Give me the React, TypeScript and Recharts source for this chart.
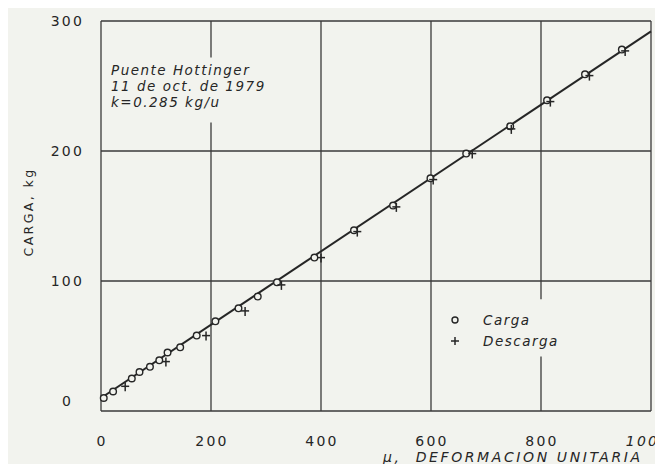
import React from 'react';
import {
  ComposedChart,
  Scatter,
  Line,
  XAxis,
  YAxis,
  CartesianGrid,
  ReferenceArea,
} from 'recharts';

// deformacion unitaria (x) vs carga kg (y)
const cargaX = [5, 22, 56, 70, 89, 106, 121, 144, 174, 208, 250, 285, 320, 388, 460, 531, 599, 664, 744, 811, 880, 947];
const cargaY = [10, 15, 25, 30, 34, 39, 45, 49, 58, 69, 79, 88, 99, 118, 139, 158, 179, 198, 219, 239, 259, 278];

const descargaX = [44, 118, 191, 262, 328, 400, 466, 537, 604, 675, 746, 817, 888, 953];
const descargaY = [19, 38, 58, 77, 97, 118, 138, 157, 178, 198, 217, 238, 258, 277];

// fitted line end points
const fitX = [0, 1000];
const fitY = [10, 292];

const xTicks = [0, 200, 400, 600, 800, 1000];
const yTicks = [0, 100, 200, 300];

const INK = '#262626';
const PAPER = '#f2f3ee';
const FONT = '"DejaVu Sans", sans-serif';

const toPoints = (xs: number[], ys: number[]) => xs.map((x, i) => ({ x, y: ys[i] }));

const cargaData = toPoints(cargaX, cargaY);
const descargaData = toPoints(descargaX, descargaY);
const fitData = toPoints(fitX, fitY);

const CircleDot = (props: any) => {
  const { cx, cy } = props;
  return <circle cx={cx} cy={cy} r={3.3} fill={PAPER} stroke={INK} strokeWidth={1.4} />;
};

const PlusDot = (props: any) => {
  const { cx, cy } = props;
  return (
    <g stroke={INK} strokeWidth={1.5}>
      <line x1={cx - 4} y1={cy} x2={cx + 4} y2={cy} />
      <line x1={cx} y1={cy - 4} x2={cx} y2={cy + 5} />
    </g>
  );
};

const XTick = (props: any) => {
  const { x, y, payload } = props;
  return (
    <text x={x + 1} y={y + 22} textAnchor="middle" dominantBaseline="central" fill={INK}
      fontSize={14} letterSpacing={2.2} fontFamily={FONT}
      fontStyle={payload.value === 1000 ? 'italic' : 'normal'}>
      {payload.value}
    </text>
  );
};

const YTick = (props: any) => {
  const { x, y, payload } = props;
  return (
    <text x={x - (payload.value === 0 ? 20 : 9)} y={payload.value === 0 ? y - 10 : y}
      textAnchor="end" dominantBaseline="central"
      fill={INK} fontSize={14} letterSpacing={2.2} fontFamily={FONT}>
      {payload.value}
    </text>
  );
};

const legendItems = [
  { name: 'Carga', icon: <circle cx={7} cy={7} r={3} fill={PAPER} stroke={INK} strokeWidth={1.4} /> },
  {
    name: 'Descarga',
    icon: (
      <g stroke={INK} strokeWidth={1.5}>
        <line x1={3} y1={7} x2={11} y2={7} />
        <line x1={7} y1={3} x2={7} y2={11} />
      </g>
    ),
  },
];

export default function App() {
  return (
    <div
      style={{
        position: 'relative',
        width: 655,
        height: 464,
        marginTop: -8,
        overflow: 'hidden',
        background: PAPER,
      }}
    >
      <ComposedChart width={655} height={464} margin={{ top: 21, right: 12, bottom: 0, left: 0 }}>
        <CartesianGrid stroke="#3a3a3a" strokeWidth={1.3} fill="none" />
        <XAxis type="number" dataKey="x" domain={[0, 1000]} ticks={xTicks} axisLine={false}
          tickLine={false} tick={<XTick />} height={53} />
        <YAxis type="number" dataKey="y" domain={[0, 300]} ticks={yTicks} axisLine={false}
          tickLine={false} tick={<YTick />} width={93} />
        <ReferenceArea x1={15} x2={275} y1={222} y2={272} fill={PAPER} fillOpacity={1} stroke="none" />
        <ReferenceArea x1={630} x2={830} y1={42} y2={86} fill={PAPER} fillOpacity={1} stroke="none" />
        <Line data={fitData} dataKey="y" type="linear" stroke={INK} strokeWidth={2} dot={false}
          isAnimationActive={false} />
        <Scatter name="Carga" data={cargaData} shape={<CircleDot />} isAnimationActive={false} />
        <Scatter name="Descarga" data={descargaData} shape={<PlusDot />} isAnimationActive={false} />
      </ComposedChart>

      <div style={{ position: 'absolute', left: 440, top: 309, fontFamily: FONT, fontStyle: 'italic',
        fontSize: 13.5, letterSpacing: 1.5, color: INK }}>
        {legendItems.map((item) => (
          <div key={item.name} style={{ display: 'flex', alignItems: 'center', height: 21 }}>
            <svg width={14} height={14} style={{ marginRight: 21 }}>{item.icon}</svg>
            <span>{item.name}</span>
          </div>
        ))}
      </div>

      <div style={{ position: 'absolute', left: 103, top: 62, fontFamily: FONT, fontStyle: 'italic',
        fontSize: 13.5, lineHeight: '16px', letterSpacing: 1.5, color: INK, whiteSpace: 'nowrap' }}>
        <div>Puente Hottinger</div>
        <div>11 de oct. de 1979</div>
        <div>k=0.285 kg/u</div>
      </div>

      <div style={{ position: 'absolute', left: 20, top: 212, transform: 'translate(-50%, -50%) rotate(-90deg)',
        fontFamily: FONT, fontSize: 12.5, letterSpacing: 2.4, color: INK, whiteSpace: 'nowrap' }}>
        CARGA, kg
      </div>

      <div style={{ position: 'absolute', left: 375, top: 449, fontFamily: FONT, fontStyle: 'italic',
        fontSize: 14, lineHeight: '16px', letterSpacing: 2.6, color: INK, whiteSpace: 'nowrap' }}>
        μ,&nbsp;&nbsp;DEFORMACION UNITARIA
      </div>
    </div>
  );
}
